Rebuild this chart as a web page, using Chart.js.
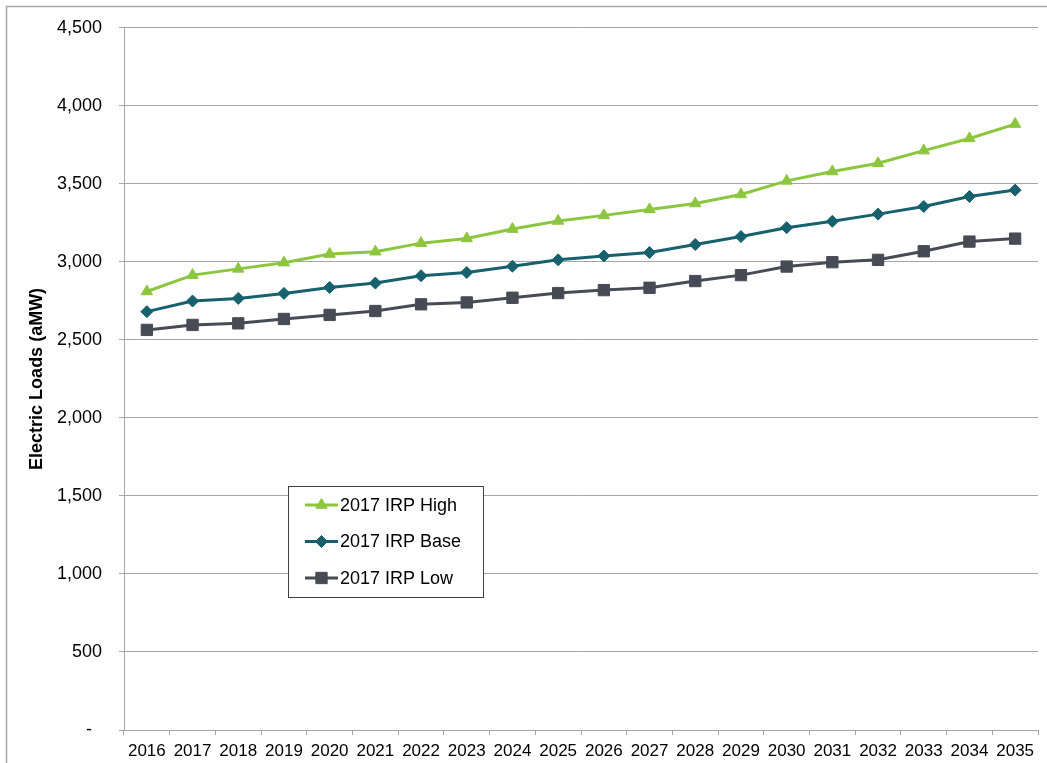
<!DOCTYPE html>
<html>
<head>
<meta charset="utf-8">
<script src="https://cdn.jsdelivr.net/npm/chart.js@4.4.1/dist/chart.umd.min.js"></script>
<style>
  html, body { margin: 0; padding: 0; background: #fff; }
  #wrap { position: absolute; left: 0; top: 0; width: 1047px; height: 763px; }
</style>
</head>
<body>
<div id="wrap"><canvas id="c" width="1047" height="763"></canvas></div>
<script>
// Load forecast (average MW) by year, three scenarios
const years = ['2016','2017','2018','2019','2020','2021','2022','2023','2024','2025',
               '2026','2027','2028','2029','2030','2031','2032','2033','2034','2035'];
const irpHigh = [2810, 2915, 2955, 2995, 3050, 3065, 3120, 3150, 3210, 3262,
                 3298, 3336, 3374, 3432, 3519, 3579, 3632, 3713, 3791, 3883];
const irpBase = [2681, 2749, 2766, 2798, 2836, 2864, 2911, 2932, 2972, 3013,
                 3038, 3060, 3111, 3162, 3219, 3260, 3306, 3355, 3419, 3460];
const irpLow  = [2564, 2596, 2606, 2634, 2660, 2685, 2728, 2740, 2770, 2800,
                 2819, 2834, 2877, 2915, 2970, 2998, 3013, 3068, 3130, 3149];
const seriesNames = ['2017 IRP High', '2017 IRP Base', '2017 IRP Low'];
const yTickValues = [0, 500, 1000, 1500, 2000, 2500, 3000, 3500, 4000, 4500];
const yTitle = 'Electric Loads (aMW)';

const FONT = "'Liberation Sans', Arial, sans-serif";
const GRID = '#a6a6a6';

// Outer frame and white background of the chart area
const framePlugin = {
  id: 'frame',
  beforeDraw(chart) {
    const ctx = chart.ctx;
    ctx.save();
    ctx.fillStyle = '#ffffff';
    ctx.fillRect(0, 0, chart.width, chart.height);
    ctx.strokeStyle = '#a6a6a6';
    ctx.lineWidth = 1.5;
    ctx.beginPath();
    ctx.moveTo(6.5, chart.height);
    ctx.lineTo(6.5, 6.5);
    ctx.lineTo(chart.width, 6.5);
    ctx.stroke();
    ctx.restore();
  }
};

// Boxed legend placed inside the plot area
const boxLegend = {
  id: 'boxLegend',
  afterDraw(chart, args, opts) {
    const ctx = chart.ctx;
    const {x, y, w, h, rowTop, rowGap} = opts;
    ctx.save();
    ctx.fillStyle = '#ffffff';
    ctx.fillRect(x, y, w, h);
    ctx.strokeStyle = '#404040';
    ctx.lineWidth = 1;
    ctx.strokeRect(x + 0.5, y + 0.5, w, h);
    chart.data.datasets.forEach((ds, i) => {
      const cy = y + rowTop + i * rowGap;
      const x0 = x + 17, x1 = x + 50;
      ctx.strokeStyle = ds.borderColor;
      ctx.lineWidth = ds.borderWidth;
      ctx.beginPath();
      ctx.moveTo(x0, cy);
      ctx.lineTo(x1, cy);
      ctx.stroke();
      ctx.fillStyle = ds.pointBackgroundColor;
      ctx.strokeStyle = ds.pointBorderColor;
      ctx.lineWidth = 1;
      Chart.helpers.drawPoint(ctx, {pointStyle: ds.pointStyle, radius: ds.pointRadius, rotation: 0, borderWidth: 1}, (x0 + x1) / 2, cy);
      ctx.fillStyle = '#000000';
      ctx.font = '18px ' + FONT;
      ctx.textAlign = 'left';
      ctx.textBaseline = 'middle';
      ctx.fillText(ds.label, x1 + 2, cy + 1);
    });
    ctx.restore();
  }
};

const colors = ['#8cc63f', '#17616e', '#474b55'];
const styles = ['triangle', 'rectRot', 'rect'];
const radii = [6.5, 6, 8];
const values = [irpHigh, irpBase, irpLow];

new Chart(document.getElementById('c'), {
  type: 'line',
  data: {
    labels: years,
    datasets: values.map((v, i) => ({
      label: seriesNames[i],
      data: v,
      borderColor: colors[i],
      backgroundColor: colors[i],
      borderWidth: 3,
      pointStyle: styles[i],
      pointRadius: radii[i],
      pointHoverRadius: radii[i],
      pointBackgroundColor: colors[i],
      pointBorderColor: colors[i],
      pointBorderWidth: 1,
      fill: false,
      tension: 0
    }))
  },
  options: {
    responsive: false,
    animation: false,
    devicePixelRatio: 1,
    layout: { padding: { left: 0, top: 26, right: 5, bottom: 0 } },
    plugins: {
      legend: { display: false },
      tooltip: { enabled: false },
      boxLegend: { x: 288, y: 486, w: 195, h: 111, rowTop: 19, rowGap: 36.5 }
    },
    scales: {
      x: {
        type: 'category',
        offset: true,
        grid: { offset: true, drawOnChartArea: false, drawTicks: true, tickLength: 5, color: GRID, lineWidth: 1 },
        border: { display: true, color: GRID, width: 1 },
        ticks: { color: '#000', font: { family: FONT, size: 17 }, padding: 6, maxRotation: 0, autoSkip: false },
        afterFit(s) { s.height = 33; s.paddingLeft = 0; s.paddingRight = 0; }
      },
      y: {
        min: 0,
        max: 4500,
        afterBuildTicks(s) { s.ticks = yTickValues.map(v => ({ value: v })); },
        grid: { drawOnChartArea: true, drawTicks: true, tickLength: 5, color: GRID, lineWidth: 1 },
        border: { display: true, color: GRID, width: 1 },
        ticks: {
          color: '#000',
          font: { family: FONT, size: 18 },
          padding: 17,
          callback: (v) => v === 0 ? '-  ' : v.toLocaleString('en-US')
        },
        title: {
          display: true,
          text: yTitle,
          color: '#000',
          font: { family: FONT, size: 18, weight: 'bold' },
          padding: { top: 26, bottom: 0 }
        },
        afterFit(s) { s.width = 124; }
      }
    }
  },
  plugins: [framePlugin, boxLegend]
});
</script>
</body>
</html>
